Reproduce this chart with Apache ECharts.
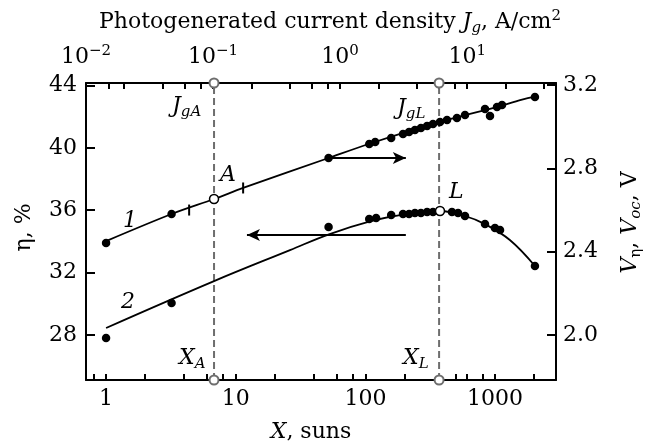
<!DOCTYPE html>
<html>
<head>
<meta charset="utf-8">
<script src="https://cdn.jsdelivr.net/npm/echarts@6/dist/echarts.min.js"></script>
<style>html,body{margin:0;padding:0;background:#fff}#chart{width:645px;height:445px}</style>
</head>
<body>
<div id="chart"></div>
<script>
// curve 1: V_eta / V_oc (right axis) vs X, suns
const v1X = [1.0, 3.2, 52, 107, 119, 158, 195, 217, 241, 268, 299, 332, 376, 426, 508, 586, 836, 914, 1035, 1131, 2030];
const v1Y = [2.442, 2.581, 2.850, 2.917, 2.927, 2.946, 2.965, 2.975, 2.984, 2.994, 3.003, 3.013, 3.023, 3.032, 3.042, 3.056, 3.085, 3.051, 3.095, 3.104, 3.143];
const fit1X = [1.0, 3.2, 6.8, 11.4, 52, 112, 376, 1090, 1560, 2030];
const fit1Y = [2.451, 2.581, 2.653, 2.706, 2.850, 2.922, 3.023, 3.099, 3.128, 3.145];
// short bars on curve 1
const barX = [4.37, 11.4];
const barY = [2.600, 2.706];

// curve 2: efficiency eta, % (left axis) vs X, suns
const eta2X = [1.0, 3.2, 52, 107, 121, 158, 195, 217, 241, 268, 299, 332, 465, 518, 586, 836, 998, 1092, 2030];
const eta2Y = [27.80, 30.04, 34.92, 35.43, 35.50, 35.69, 35.76, 35.76, 35.82, 35.82, 35.88, 35.88, 35.88, 35.82, 35.63, 35.11, 34.86, 34.73, 32.42];
const fit2X = [1.0, 6.8, 26.2, 53, 112, 185, 376, 586, 836, 1300, 2030];
const fit2Y = [28.44, 31.45, 33.44, 34.47, 35.31, 35.69, 35.95, 35.63, 35.11, 34.09, 32.42];

// special points
const pointA = [6.8, 2.653];
const pointL = [376, 35.95];
const guideX = [6.8, 370];

// axes
const xMin = 0.7, xMax = 2950;
const jMin = 0.01, jMax = 50;
const etaMin = 25.1, etaMax = 44.17;
const vMin = 1.784, vMax = 3.21;
const xLabels = [1, 10, 100, 1000];
const xTicks = [0.8, 1, 2, 4, 6, 8, 10, 20, 40, 60, 80, 100, 200, 500, 600, 800, 1000, 2000];
const jLabels = [0.01, 0.1, 1, 10];
const jTicks = [0.015, 0.02, 0.04, 0.06, 0.08, 0.1, 0.2, 0.4, 0.6, 0.8, 1, 2, 4, 6, 8, 10, 20, 40];
const etaTicks = [28, 32, 36, 40, 44];
const vTicks = [2.0, 2.4, 2.8, 3.2];

const serif = 'DejaVu Serif';
const fs = 22;
const rich = {
  t: { fontFamily: serif, fontSize: fs, color: '#000' },
  i: { fontFamily: serif, fontSize: fs, fontStyle: 'italic', color: '#000' },
  sub: { fontFamily: serif, fontSize: 15, fontStyle: 'italic', color: '#000', padding: [12, 0, 0, 0] },
  subu: { fontFamily: serif, fontSize: 15, color: '#000', padding: [12, 0, 0, 0] },
  sup: { fontFamily: serif, fontSize: 15, color: '#000', padding: [0, 0, 12, 0] }
};
const zip = (a, b) => a.map((v, k) => [v, b[k]]);

const chart = echarts.init(document.getElementById('chart'));

const axisLine = { lineStyle: { color: '#000', width: 2 } };
const dot = { color: '#000', opacity: 1 };

chart.setOption({
  animation: false,
  backgroundColor: '#fff',
  grid: { left: 86, right: 89, top: 83, bottom: 65, outerBoundsMode: 'none', containLabel: false },
  xAxis: [{
    type: 'log', logBase: 10, min: xMin, max: xMax, position: 'bottom',
    axisLine: axisLine,
    axisTick: { inside: true, length: 6, lineStyle: { color: '#000', width: 2 }, customValues: xTicks },
    axisLabel: { customValues: xLabels, margin: 8, fontFamily: serif, fontSize: fs, color: '#000',
      formatter: v => String(Math.round(v)) },
    splitLine: { show: false },
    name: '{i|X}{t|, suns}', nameLocation: 'middle', nameGap: 41, nameMoveOverlap: false,
    nameTextStyle: { rich: rich, padding: [0, 20, 0, 0] }
  }, {
    type: 'log', logBase: 10, min: jMin, max: jMax, position: 'top',
    axisLine: axisLine,
    axisTick: { inside: true, length: 6, lineStyle: { color: '#000', width: 2 }, customValues: jTicks },
    axisLabel: { customValues: jLabels, margin: 12,
      formatter: v => { const e = Math.round(Math.log10(v)); return '{t|10}{sup|' + (e < 0 ? '\u2212' + (-e) : e) + '}'; },
      rich: rich },
    splitLine: { show: false },
    name: '{t|Photogenerated current density }{i|J}{sub|g}{t|, A/cm}{sup|2}', nameLocation: 'middle', nameGap: 47,
    nameMoveOverlap: false,
    nameTextStyle: { rich: rich, padding: [0, 0, 0, 18] }
  }],
  yAxis: [{
    type: 'value', min: etaMin, max: etaMax, position: 'left',
    axisLine: axisLine,
    axisTick: { inside: true, length: 9, lineStyle: { color: '#000', width: 2 }, customValues: etaTicks },
    axisLabel: { customValues: etaTicks, margin: 9, fontFamily: serif, fontSize: fs, color: '#000' },
    splitLine: { show: false },
    name: 'η, %', nameLocation: 'middle', nameGap: 51, nameRotate: 90, nameMoveOverlap: false,
    nameTextStyle: { fontFamily: serif, fontSize: fs, color: '#000', padding: [0, 0, 0, 8] }
  }, {
    type: 'value', min: vMin, max: vMax, position: 'right',
    axisLine: axisLine,
    axisTick: { inside: true, length: 9, lineStyle: { color: '#000', width: 2 }, customValues: vTicks },
    axisLabel: { customValues: vTicks, margin: 7, fontFamily: serif, fontSize: fs, color: '#000',
      formatter: v => v.toFixed(1) },
    splitLine: { show: false },
    name: '{i|V}{subu|η}{t|, }{i|V}{sub|oc}{t|, V}', nameLocation: 'middle', nameGap: 61, nameRotate: 90,
    nameMoveOverlap: false,
    nameTextStyle: { rich: rich, padding: [0, 0, 0, 18] }
  }],
  series: [
    { // guides
      type: 'line', xAxisIndex: 0, yAxisIndex: 0, clip: false, z: 1,
      data: [[guideX[0], etaMin], [guideX[0], etaMax]],
      symbol: 'emptyCircle', symbolSize: 9, showSymbol: true,
      lineStyle: { color: '#6e6e6e', width: 2, type: [7, 4] },
      itemStyle: { color: '#6e6e6e', borderWidth: 1.5 }
    },
    {
      type: 'line', xAxisIndex: 0, yAxisIndex: 0, clip: false, z: 1,
      data: [[guideX[1], etaMin], [guideX[1], etaMax]],
      symbol: 'emptyCircle', symbolSize: 9, showSymbol: true,
      lineStyle: { color: '#6e6e6e', width: 2, type: [7, 4] },
      itemStyle: { color: '#6e6e6e', borderWidth: 1.5 }
    },
    { // curve 1 fit
      type: 'line', xAxisIndex: 0, yAxisIndex: 1, data: zip(fit1X, fit1Y),
      smooth: 0.3, showSymbol: false, lineStyle: { color: '#000', width: 1.8 }, z: 3,
      markLine: { silent: true, symbol: ['none', 'arrow'], symbolSize: [9, 13], label: { show: false },
        lineStyle: { color: '#000', width: 1.8, type: 'solid' },
        data: [[{ coord: [53, 2.85] }, { coord: [205, 2.85] }]] }
    },
    { // curve 2 fit
      type: 'line', xAxisIndex: 0, yAxisIndex: 0, data: zip(fit2X, fit2Y),
      smooth: 0.4, showSymbol: false, lineStyle: { color: '#000', width: 1.8 }, z: 3,
      markLine: { silent: true, symbol: ['none', 'arrow'], symbolSize: [9, 13], label: { show: false },
        lineStyle: { color: '#000', width: 1.8, type: 'solid' },
        data: [[{ coord: [205, 34.41] }, { coord: [12.2, 34.41] }]] }
    },
    { type: 'scatter', xAxisIndex: 0, yAxisIndex: 1, data: zip(v1X, v1Y), symbolSize: 8.5, itemStyle: dot, z: 4 },
    { type: 'scatter', xAxisIndex: 0, yAxisIndex: 0, data: zip(eta2X, eta2Y), symbolSize: 8.5, itemStyle: dot, z: 4 },
    { type: 'scatter', xAxisIndex: 0, yAxisIndex: 1, data: zip(barX, barY), symbol: 'rect', symbolSize: [2, 11], itemStyle: dot, z: 4 },
    { type: 'scatter', xAxisIndex: 0, yAxisIndex: 1, data: [pointA], symbol: 'circle', symbolSize: 9,
      itemStyle: { color: '#fff', borderColor: '#000', borderWidth: 1.5, opacity: 1 }, z: 5 },
    { type: 'scatter', xAxisIndex: 0, yAxisIndex: 0, data: [pointL], symbol: 'circle', symbolSize: 9,
      itemStyle: { color: '#fff', borderColor: '#000', borderWidth: 1.5, opacity: 1 }, z: 5 }
  ],
  graphic: [
    { type: 'text', left: 172, top: 95, style: { text: '{i|J}{sub|gA}', rich: rich } },
    { type: 'text', left: 397, top: 97, style: { text: '{i|J}{sub|gL}', rich: rich } },
    { type: 'text', left: 220, top: 164, style: { text: '{i|A}', rich: rich } },
    { type: 'text', left: 449, top: 181, style: { text: '{i|L}', rich: rich } },
    { type: 'text', left: 123, top: 210, style: { text: '{i|1}', rich: rich } },
    { type: 'text', left: 121, top: 291, style: { text: '{i|2}', rich: rich } },
    { type: 'text', left: 179, top: 347, style: { text: '{i|X}{sub|A}', rich: rich } },
    { type: 'text', left: 403, top: 347, style: { text: '{i|X}{sub|L}', rich: rich } }
  ]
});
</script>
</body>
</html>
